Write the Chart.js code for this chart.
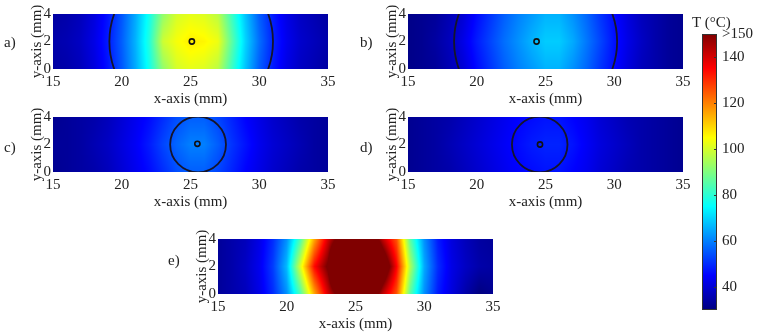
<!DOCTYPE html>
<html>
<head>
<meta charset="utf-8">
<script src="https://cdn.jsdelivr.net/npm/chart.js@4.4.0/dist/chart.umd.min.js"></script>
<style>
  body { margin: 0; background: #fff; width: 758px; height: 334px; overflow: hidden; position: relative;
         font-family: "Liberation Serif", "DejaVu Serif", serif; }
  canvas { position: absolute; }
  .lbl { position: absolute; font-size: 15px; line-height: 18px; color: #222; white-space: nowrap; }
</style>
</head>
<body>
<canvas id="pa" width="340" height="110" style="left:0px;top:0px"></canvas>
<canvas id="pb" width="340" height="110" style="left:355px;top:0px"></canvas>
<canvas id="pc" width="340" height="110" style="left:0px;top:103px"></canvas>
<canvas id="pd" width="340" height="110" style="left:355px;top:103px"></canvas>
<canvas id="pe" width="340" height="110" style="left:165px;top:225px"></canvas>
<canvas id="cbar" width="78" height="334" style="left:680px;top:0px"></canvas>
<div class="lbl" style="left:4px;top:33px">a)</div>
<div class="lbl" style="left:360px;top:33px">b)</div>
<div class="lbl" style="left:4px;top:138px">c)</div>
<div class="lbl" style="left:360px;top:138px">d)</div>
<div class="lbl" style="left:168px;top:251px">e)</div>
<div class="lbl" style="left:692px;top:13px">T (°C)</div>
<script>
// ---- data ----
const xNodes = [15, 16, 17, 18, 19, 20, 21, 22, 23, 24, 25, 26, 27, 28, 29, 30, 31, 32, 33, 34, 35];
const yNodes = [0, 2, 4];
const xTickVals = [15, 20, 25, 30, 35];
const yTickVals = [0, 2, 4];
const cbarTicks = [40, 60, 80, 100, 120, 140, 150];
const cMin = 30, cMax = 150;

// temperature (°C) along x at y = 0 / 2 / 4
const aEdge = [34, 35, 37, 41, 47, 55, 65, 77, 92, 100, 102, 101, 97, 82, 68, 56, 48, 42, 38, 36, 34];
const aMid  = [35, 36, 38, 42, 48, 56, 66, 79, 99, 104, 107, 106, 103, 86, 70, 58, 49, 43, 39, 37, 35];
const bEdge = [31, 32, 33, 36, 40, 46, 51, 56, 60, 63, 66, 66, 62, 57, 51, 46, 41, 37, 35, 33, 32];
const bMid  = [31, 32, 34, 37, 42, 48, 53, 58, 62, 66, 69, 69, 65, 59, 53, 47, 42, 38, 35, 33, 32];
const cEdge = [32, 33, 34, 35, 37, 40, 43, 46, 50, 54, 56, 56, 53, 49, 45, 42, 39, 37, 35, 34, 33];
const cMid  = [33, 33, 34, 36, 38, 41, 44, 48, 53, 57, 60, 60, 56, 51, 47, 43, 40, 38, 36, 34, 33];
const dEdge = [32, 33, 34, 35, 37, 39, 41, 43, 45, 46, 47, 47, 45, 43, 40, 38, 36, 35, 34, 33, 32];
const dMid  = [32, 33, 34, 36, 38, 40, 42, 44, 46, 48, 49, 49, 47, 44, 41, 39, 37, 35, 34, 33, 32];
const eBottom = [33, 35, 37, 42, 50, 62, 84, 115, 140, 158, 175, 165, 142, 125, 85, 62, 48, 41, 35, 30, 32];
const eMid    = [33, 35, 38, 43, 52, 67, 101, 134, 152, 200, 220, 205, 165, 135, 95, 65, 50, 42, 38, 35, 34];
const eTop    = [33, 35, 37, 42, 50, 62, 84, 115, 140, 158, 175, 165, 142, 125, 85, 62, 48, 41, 37, 34, 33];

// probe markers and boundary circles [cx, cy, r] (mm)
const markerA = [{ x: 25.1, y: 2 }];
const markerB = [{ x: 24.35, y: 2 }];
const markerC = [{ x: 25.5, y: 2.05 }];
const markerD = [{ x: 24.6, y: 2 }];
const circleA = [25.05, 2, 5.95];
const circleB = [24.28, 2, 5.93];
const circleC = [25.55, 2, 2.03];
const circleD = [24.58, 2, 2.02];

const panels = {
  pa: { rows: [aEdge, aMid, aEdge], circle: circleA, marker: markerA },
  pb: { rows: [bEdge, bMid, bEdge], circle: circleB, marker: markerB },
  pc: { rows: [cEdge, cMid, cEdge], circle: circleC, marker: markerC },
  pd: { rows: [dEdge, dMid, dEdge], circle: circleD, marker: markerD },
  pe: { rows: [eBottom, eMid, eTop], circle: null, marker: [] }
};

const txt = '#222';
const font = { family: '"Liberation Serif", "DejaVu Serif", serif', size: 15 };
const noGrid = { display: false, drawTicks: false, tickLength: 0 };

function clamp01(v) { return Math.max(0, Math.min(1, v)); }

// matlab jet
function jet(v) {
  const t = clamp01((v - cMin) / (cMax - cMin));
  const f = x => Math.round(255 * clamp01(x));
  return [f(Math.min(4 * t - 1.5, -4 * t + 4.5)), f(Math.min(4 * t - 0.5, -4 * t + 3.5)), f(Math.min(4 * t + 0.5, -4 * t + 2.5))];
}

function sample(rows, xv, yv) {
  let i = 0; while (i < xNodes.length - 2 && xv > xNodes[i + 1]) i++;
  let j = 0; while (j < yNodes.length - 2 && yv > yNodes[j + 1]) j++;
  const tx = clamp01((xv - xNodes[i]) / (xNodes[i + 1] - xNodes[i]));
  const ty = clamp01((yv - yNodes[j]) / (yNodes[j + 1] - yNodes[j]));
  const lo = rows[j][i] * (1 - tx) + rows[j][i + 1] * tx;
  const hi = rows[j + 1][i] * (1 - tx) + rows[j + 1][i + 1] * tx;
  return lo * (1 - ty) + hi * ty;
}

const heatmapPlugin = {
  id: 'heatmap',
  beforeDatasetsDraw(chart) {
    const p = panels[chart.canvas.id];
    if (!p) return;
    const { ctx, chartArea: a, scales: { x, y } } = chart;
    const w = Math.round(a.right - a.left), h = Math.round(a.bottom - a.top);
    const off = document.createElement('canvas');
    off.width = w; off.height = h;
    const octx = off.getContext('2d');
    const img = octx.createImageData(w, h);
    for (let j = 0; j < h; j++) {
      const yv = y.getValueForPixel(a.top + j + 0.5);
      for (let i = 0; i < w; i++) {
        const xv = x.getValueForPixel(a.left + i + 0.5);
        const c = jet(sample(p.rows, xv, yv));
        const k = (j * w + i) * 4;
        img.data[k] = c[0]; img.data[k + 1] = c[1]; img.data[k + 2] = c[2]; img.data[k + 3] = 255;
      }
    }
    octx.putImageData(img, 0, 0);
    ctx.drawImage(off, a.left, a.top);

    if (p.circle) {
      const [cx, cy, r] = p.circle;
      const px = x.getPixelForValue(cx), py = y.getPixelForValue(cy);
      const rx = Math.abs(x.getPixelForValue(cx + r) - px);
      const ry = Math.abs(y.getPixelForValue(cy + r) - py);
      ctx.save();
      ctx.beginPath();
      ctx.rect(a.left, a.top, a.right - a.left, a.bottom - a.top);
      ctx.clip();
      ctx.beginPath();
      ctx.ellipse(px, py, rx, ry, 0, 0, Math.PI * 2);
      ctx.lineWidth = 1.8;
      ctx.strokeStyle = '#15152a';
      ctx.stroke();
      ctx.restore();
    }
  }
};

function makePanel(id) {
  const p = panels[id];
  new Chart(document.getElementById(id), {
    type: 'scatter',
    data: {
      datasets: [{
        data: p.marker,
        pointRadius: 2.6,
        pointBorderWidth: 1.6,
        borderColor: '#111',
        backgroundColor: 'rgba(0,0,0,0)'
      }]
    },
    options: {
      responsive: false,
      animation: false,
      events: [],
      layout: { padding: { left: 22, right: 12, top: 14, bottom: 0 } },
      plugins: { legend: { display: false }, tooltip: { enabled: false } },
      scales: {
        x: {
          type: 'linear', min: 15, max: 35,
          afterBuildTicks: s => { s.ticks = xTickVals.map(v => ({ value: v })); },
          afterFit: s => { s.height = 41; },
          grid: noGrid,
          border: { display: false },
          ticks: { color: txt, font, padding: 4, maxRotation: 0 },
          title: { display: true, text: 'x-axis (mm)', color: txt, font, padding: { top: 0, bottom: 2 } }
        },
        y: {
          type: 'linear', min: 0, max: 4,
          afterBuildTicks: s => { s.ticks = yTickVals.map(v => ({ value: v })); },
          afterFit: s => { s.width = 31; },
          grid: noGrid,
          border: { display: false },
          ticks: { color: txt, font, padding: 2 },
          title: { display: true, text: 'y-axis (mm)', color: txt, font, padding: { top: 6, bottom: 0 } }
        }
      }
    },
    plugins: [heatmapPlugin]
  });
}

['pa', 'pb', 'pc', 'pd', 'pe'].forEach(makePanel);

// colour bar
const cbarPlugin = {
  id: 'cbar',
  beforeDatasetsDraw(chart) {
    const { ctx, chartArea: a, scales: { y } } = chart;
    for (let py = Math.floor(a.top); py < a.bottom; py++) {
      const c = jet(y.getValueForPixel(py + 0.5));
      ctx.fillStyle = `rgb(${c[0]},${c[1]},${c[2]})`;
      ctx.fillRect(a.left, py, a.right - a.left, 1);
    }
    ctx.save();
    ctx.strokeStyle = '#333';
    ctx.lineWidth = 1;
    ctx.strokeRect(a.left + 0.5, a.top + 0.5, a.right - a.left - 1, a.bottom - a.top - 1);
    y.ticks.forEach(t => {
      const py = Math.round(y.getPixelForValue(t.value)) + 0.5;
      ctx.beginPath();
      ctx.moveTo(a.right, py);
      ctx.lineTo(a.right - 3, py);
      ctx.stroke();
    });
    ctx.restore();
  }
};

new Chart(document.getElementById('cbar'), {
  type: 'scatter',
  data: { datasets: [{ data: [] }] },
  options: {
    responsive: false,
    animation: false,
    events: [],
    layout: { padding: { left: 22, right: 0, top: 34, bottom: 24 } },
    plugins: { legend: { display: false }, tooltip: { enabled: false } },
    scales: {
      x: { display: false, min: 0, max: 1 },
      y: {
        type: 'linear', position: 'right', min: cMin, max: cMax,
        afterBuildTicks: s => { s.ticks = cbarTicks.map(v => ({ value: v })); },
        afterFit: s => { s.width = 41; },
        grid: noGrid,
        border: { display: false },
        ticks: { color: txt, font, padding: 5, callback: v => (v === 150 ? '>150' : v) }
      }
    }
  },
  plugins: [cbarPlugin]
});
</script>
</body>
</html>
